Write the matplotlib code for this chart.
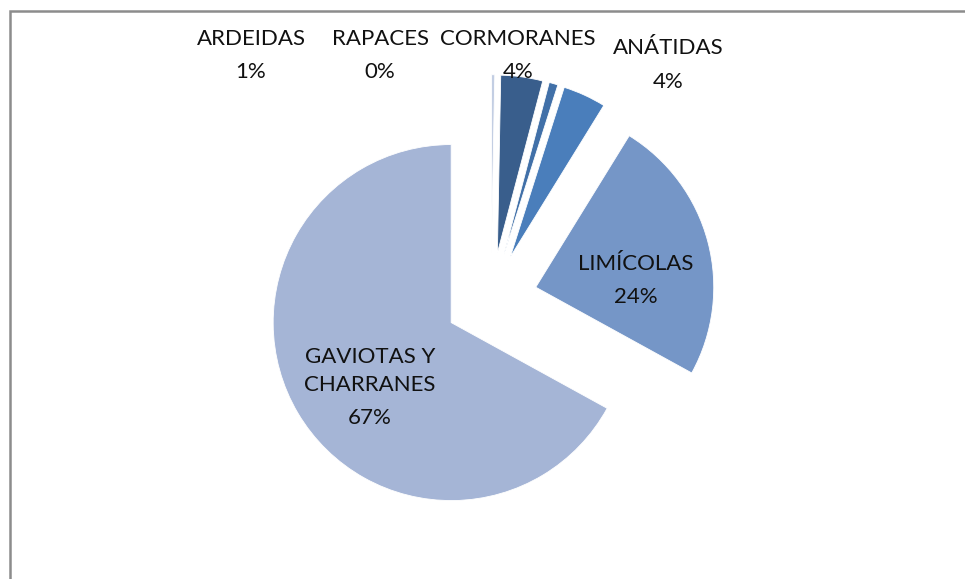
import matplotlib.pyplot as plt
from matplotlib.patches import Rectangle

plt.rcParams['font.family'] = ['Lato', 'DejaVu Sans']

# slices in drawing order (clockwise from 12 o'clock)
species = ['RAPACES', 'CORMORANES', 'ARDEIDAS', 'ANÁTIDAS', 'LIMÍCOLAS', 'GAVIOTAS Y\nCHARRANES']
shares = [0.3, 3.8, 0.8, 3.9, 24.2, 67.0]
pct_labels = ['0%', '4%', '1%', '4%', '24%', '67%']
colors = ['#C3CEE3', '#395E8C', '#4170A8', '#4A7EBB', '#7596C7', '#A5B5D6']

W, H = 965, 579
R = 178.0          # pie radius in pixels
cx, cy = 491, 299  # pie centre in pixels (from top-left)

fig = plt.figure(figsize=(W / 100, H / 100), dpi=100)
ax = fig.add_axes([0, 0, 1, 1])

ax.pie(shares, colors=colors, startangle=90, counterclock=False,
       explode=[0.26] * len(shares), radius=1,
       wedgeprops=dict(edgecolor='white', linewidth=0.6))
ax.set_xlim(-cx / R, (W - cx) / R)
ax.set_ylim(-(H - cy) / R, cy / R)
ax.set_aspect('auto')
ax.axis('off')

# frame of the chart area
fig.patches.append(Rectangle((9.5 / W, -0.1), 1.2, (H - 10.5) / H + 0.1,
                             transform=fig.transFigure, fill=False,
                             edgecolor='#8C8C8C', linewidth=1.8))

# label positions in pixels (name centre, percent centre)
label_pos = {
    'ARDEIDAS': (251, 39, 72),
    'RAPACES': (380, 39, 72),
    'CORMORANES': (518, 39, 72),
    'ANÁTIDAS': (668, 48, 82),
    'LIMÍCOLAS': (636, 264, 297),
    'GAVIOTAS Y\nCHARRANES': (370, 371, 418),
}

def px(x, y):
    return x / W, 1 - y / H

for name, pct in zip(species, pct_labels):
    x, y1, y2 = label_pos[name]
    fig.text(*px(x, y1), name, ha='center', va='center', fontsize=16,
             color='#111111', linespacing=1.55)
    fig.text(*px(x, y2), pct, ha='center', va='center', fontsize=16,
             color='#111111')

fig.savefig('out.png', dpi=100)
